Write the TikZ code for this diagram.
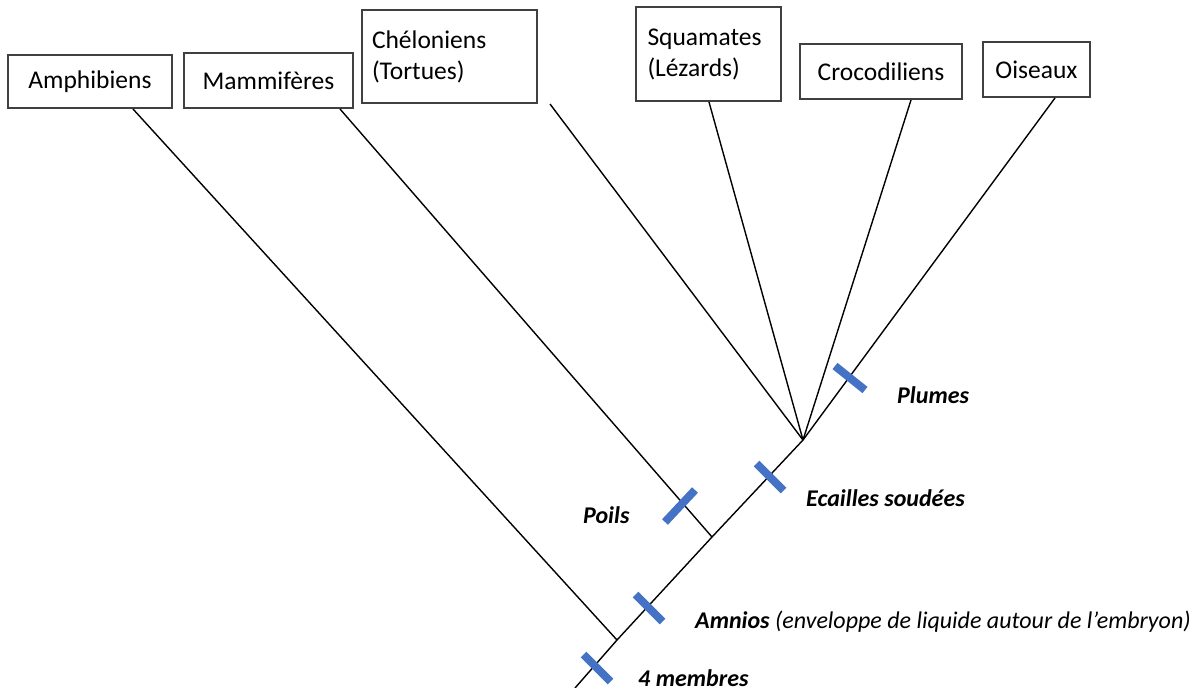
\documentclass[tikz,border=0pt]{standalone}
\usepackage{fontspec}
\setmainfont{Carlito}
\usetikzlibrary{calc}
\definecolor{markblue}{HTML}{4472C4}
\definecolor{boxgray}{HTML}{404040}
\tikzset{
  taxon/.style={draw=boxgray, line width=1.3pt, rectangle, inner sep=0pt, font=\fontsize{25.5}{31}\selectfont, align=left},
  branch/.style={line width=1.4pt, black},
  trait/.style={line width=8pt, markblue},
  lab/.style={anchor=west, inner sep=0pt, font=\fontsize{24}{28}\selectfont\bfseries\itshape},
}
\begin{document}
\begin{tikzpicture}[x=1pt,y=-1pt]
\useasboundingbox (0,0) rectangle (1195,688);
% boxes
\node[taxon, minimum width=164pt, minimum height=53pt] (amph) at (90,81.5) {Amphibiens};
\node[taxon, minimum width=169pt, minimum height=55pt] (mamm) at (268.5,80.5) {Mammifères};
\node[taxon, minimum width=175pt, minimum height=93pt, text width=155pt] (chel) at (449.5,56.5) {Chéloniens\\(Tortues)};
\node[taxon, minimum width=145pt, minimum height=94pt, text width=122pt] (squa) at (708.5,54) {Squamates\\(Lézards)};
\node[taxon, minimum width=162pt, minimum height=55pt] (croc) at (881,71.5) {Crocodiliens};
\node[taxon, minimum width=107pt, minimum height=55pt] (ois) at (1036.5,69.5) {Oiseaux};
% branch points
\coordinate (base) at (575,688);
\coordinate (jA) at (617,640);
\coordinate (jM) at (712,537);
\coordinate (jR) at (803,440);
\coordinate (amphB) at (133,109);
\coordinate (mammB) at (340,109);
\coordinate (chelB) at (550,104);
\coordinate (squaB) at (709,102);
\coordinate (crocB) at (911,100);
\coordinate (oisB) at (1055,98);
% branches
\draw[branch] (base) -- (jA) -- (jM) -- (jR) -- (oisB);
\draw[branch] (amphB) -- (jA);
\draw[branch] (mammB) -- (jM);
\draw[branch] (chelB) -- (jR);
\draw[branch] (squaB) -- (jR);
\draw[branch] (crocB) -- (jR);
% traits
\coordinate (t4) at (597,668);
\coordinate (tAm) at (649,608);
\coordinate (tPo) at (680,506);
\coordinate (tEc) at (770,477);
\coordinate (tPl) at (850,378);
\draw[trait] ($(t4)+(-13.5,-13.5)$) -- ($(t4)+(13.5,13.5)$);
\draw[trait] ($(tAm)+(-13.5,-13.5)$) -- ($(tAm)+(13.5,13.5)$);
\draw[trait] ($(tPo)+(-15,16)$) -- ($(tPo)+(15,-16)$);
\draw[trait] ($(tEc)+(-13.5,-13.5)$) -- ($(tEc)+(13.5,13.5)$);
\draw[trait] ($(tPl)+(-15,-12)$) -- ($(tPl)+(15,12)$);
% labels
\node[lab] (lPl) at (897,395) {Plumes};
\node[lab] (lEc) at (806,498) {Ecailles soudées};
\node[lab] (lPo) at (583,515) {Poils};
\node[lab] (lAm) at (695,622) {Amnios \mdseries(enveloppe de liquide autour de l’embryon)};
\node[lab] (l4) at (638,678) {4 membres};
\end{tikzpicture}
\end{document}
